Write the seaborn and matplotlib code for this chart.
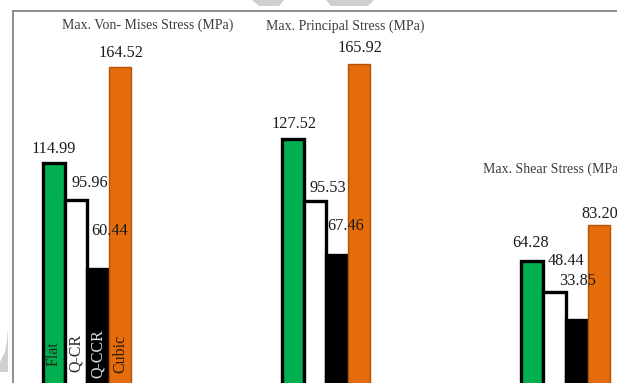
import matplotlib
matplotlib.use("Agg")
import matplotlib.pyplot as plt
import pandas as pd
import seaborn as sns
from matplotlib.patches import Polygon

# Stress results per lattice shape
metrics = ["Max. Von- Mises Stress (MPa)", "Max. Principal Stress (MPa)", "Max. Shear Stress (MPa)"]
shapes = ["Flat", "Q-CR", "Q-CCR", "Cubic"]
flat = [114.99, 127.52, 64.28]
q_cr = [95.96, 95.53, 48.44]
q_ccr = [60.44, 67.46, 33.85]
cubic = [164.52, 165.92, 83.20]

series = {"Flat": flat, "Q-CR": q_cr, "Q-CCR": q_ccr, "Cubic": cubic}
df = pd.DataFrame(
    [(m, s, series[s][i]) for i, m in enumerate(metrics) for s in shapes],
    columns=["metric", "shape", "value"],
)

sns.set_theme(style="white")
plt.rcParams["font.family"] = ["Liberation Serif", "DejaVu Serif"]

fill = {"Flat": "#00B050", "Q-CR": "#FFFFFF", "Q-CCR": "#000000", "Cubic": "#E46C0A"}
edge = {"Flat": "#000000", "Q-CR": "#000000", "Q-CCR": "#000000", "Cubic": "#B5520A"}
edge_w = {"Flat": 2.4, "Q-CR": 2.4, "Q-CCR": 2.4, "Cubic": 1.0}
inner_text = {"Flat": "#1c2b1f", "Q-CR": "#2b2b2b", "Q-CCR": "#e0e0e0", "Cubic": "#2a1a0a"}

# label offsets (points) from each bar's top, per group and shape
label_offsets = [
    [(-0.4, 7.1), (9.7, 9.2), (8.6, 24.3), (0.7, 7.1)],
    [(0.4, 7.6), (9.0, 6.3), (6.1, 18.1), (0.4, 8.7)],
    [(-1.1, 10.3), (7.9, 19.4), (0.7, 25.4), (1.1, 4.8)],
]

W, H = 617, 383
fig = plt.figure(figsize=(W / 100, H / 100), dpi=100)
right_px = 700
ax = fig.add_axes([13 / W, -3 / H, (right_px - 13) / W, 375 / H])

sns.barplot(
    data=df, x="metric", y="value", hue="shape",
    order=metrics, hue_order=shapes, palette=fill,
    width=0.368, gap=0, saturation=1, errorbar=None,
    legend=False, ax=ax,
)

for cont, s in zip(ax.containers, shapes):
    for bar in cont:
        bar.set_edgecolor(edge[s])
        bar.set_linewidth(edge_w[s])

px_per_unit = 239.25
x0 = -74 / px_per_unit
ax.set_xlim(x0, x0 + (right_px - 13) / px_per_unit)
ax.set_ylim(0, 375 / 1.94)

# value labels
for k, (cont, s) in enumerate(zip(ax.containers, shapes)):
    for g, bar in enumerate(cont):
        dx, dy = label_offsets[g][k]
        ax.annotate(
            f"{bar.get_height():.2f}",
            xy=(bar.get_x() + bar.get_width() / 2, bar.get_height()),
            xytext=(dx, dy), textcoords="offset points",
            ha="center", va="baseline", fontsize=11.7, color="#1a1a1a",
            zorder=5,
        )

# shape names written inside the first group's bars
for cont, s in zip(ax.containers, shapes):
    bar = cont[0]
    ax.text(
        bar.get_x() + bar.get_width() / 2, 16.8, s,
        rotation=90, ha="center", va="center",
        fontsize=11.5, color=inner_text[s], zorder=5,
    )

# group titles
title_pos = [(-0.1045, 186.1), (0.748, 185.6), (1.655, 111.9)]
for m, (tx, ty) in zip(metrics, title_pos):
    ax.text(tx, ty, m, ha="left", va="center", fontsize=10, color="#3c3c3c")

ax.set_xlabel("")
ax.set_ylabel("")
ax.set_xticks([])
ax.set_yticks([])
for side in ["right", "bottom"]:
    ax.spines[side].set_visible(False)
for side in ["left", "top"]:
    ax.spines[side].set_color("#858585")
    ax.spines[side].set_linewidth(1.3)

# faint grey backdrop marks
def px(pts):
    return [(x / W, 1 - y / H) for x, y in pts]

for poly in [
    [(252, 0), (284, 0), (279, 6), (259, 6)],
    [(326, 0), (374, 0), (368, 6), (331, 6)],
    [(8, 328), (8, 372), (0, 372), (0, 362), (5, 352), (7, 340)],
]:
    fig.patches.append(Polygon(px(poly), closed=True, transform=fig.transFigure,
                               facecolor="#cfcfcf", edgecolor="none", zorder=0))

fig.savefig("out.png", dpi=100)
